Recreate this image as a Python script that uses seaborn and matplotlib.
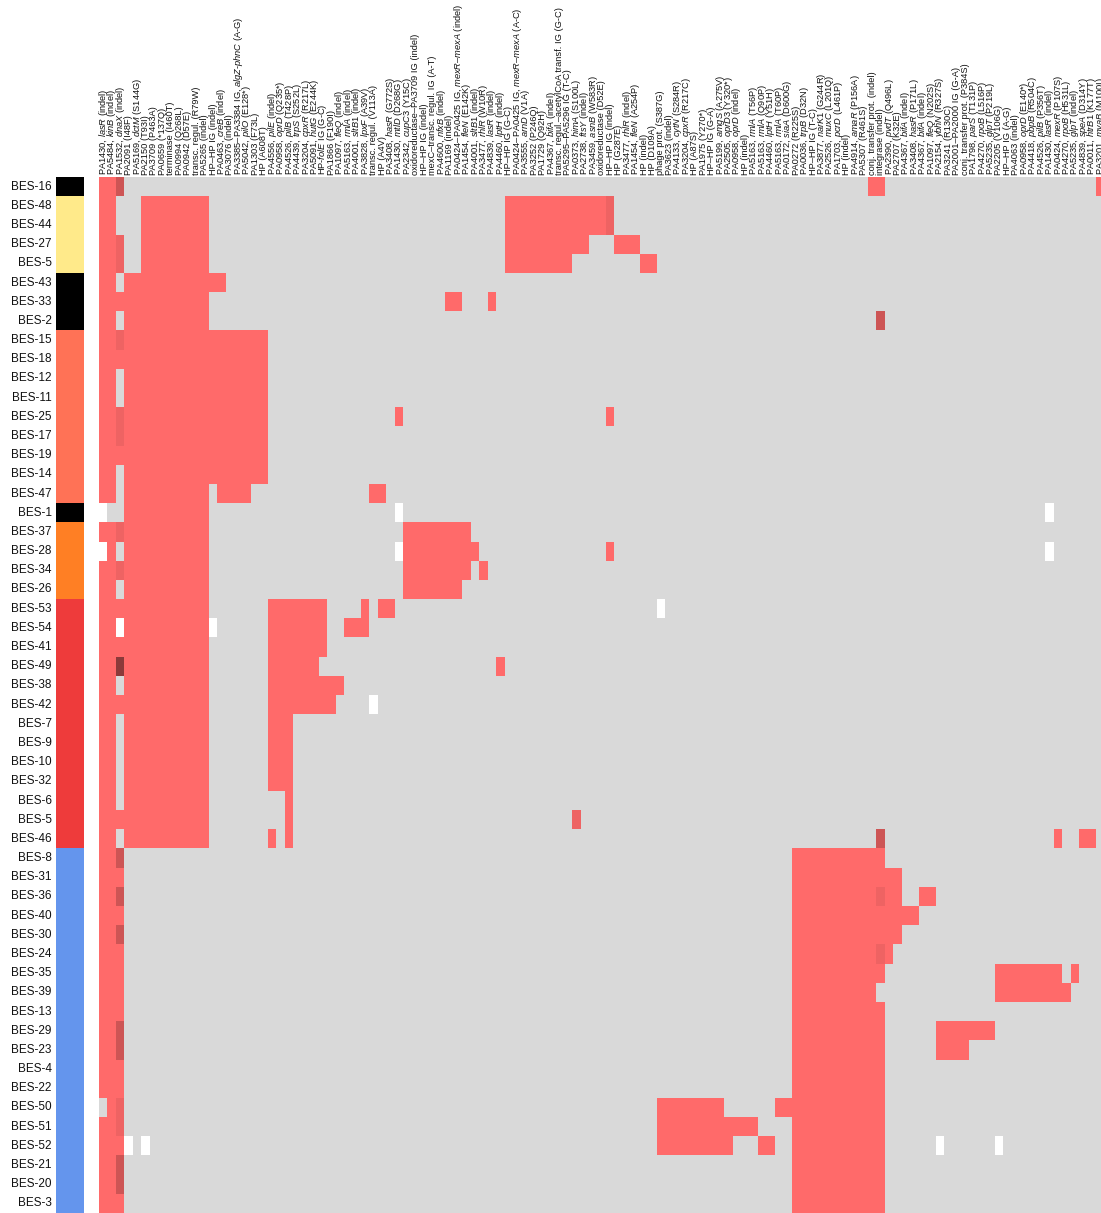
import numpy as np
import pandas as pd
import matplotlib
matplotlib.use("Agg")
import matplotlib.pyplot as plt
from matplotlib.colors import ListedColormap
import seaborn as sns

# ---------------- data ----------------
strains = ["BES-16", "BES-48", "BES-44", "BES-27", "BES-5", "BES-43", "BES-33", "BES-2",
           "BES-15", "BES-18", "BES-12", "BES-11", "BES-25", "BES-17", "BES-19", "BES-14",
           "BES-47", "BES-1", "BES-37", "BES-28", "BES-34", "BES-26", "BES-53", "BES-54",
           "BES-41", "BES-49", "BES-38", "BES-42", "BES-7", "BES-9", "BES-10", "BES-32",
           "BES-6", "BES-5", "BES-46", "BES-8", "BES-31", "BES-36", "BES-40", "BES-30",
           "BES-24", "BES-35", "BES-39", "BES-13", "BES-29", "BES-23", "BES-4", "BES-22",
           "BES-50", "BES-51", "BES-52", "BES-21", "BES-20", "BES-3"]

strain_groups = (["black"] + ["yellow"] * 4 + ["black"] * 3 + ["coral"] * 9 + ["black"]
                 + ["orange"] * 4 + ["red"] * 13 + ["blue"] * 19)

group_names = ["black", "yellow", "coral", "orange", "red", "blue"]
group_palette = ["#000000", "#FFEA8A", "#FF7256", "#FF7F24", "#EE3B3B", "#6495ED"]

mutations = [
    r"PA1430, $\mathit{lasR}$ (indel)",
    r"PA5484, $\mathit{kinB}$ (indel)",
    r"PA1532, $\mathit{dnaX}$ (indel)",
    "PA2091 (I48F)",
    r"PA5169, $\mathit{dctM}$ (S144G)",
    "PA2150 (T93I)",
    "PA3709 (P463A)",
    "PA0659 (*137Q)",
    "terminase (I460T)",
    "PA0994 (Q268L)",
    "PA0942 (D57E)",
    "transc. regul. (R79W)",
    "PA5265 (indel)",
    "HP–HP IG (indel)",
    r"PA0463, $\mathit{creB}$ (indel)",
    "PA3076 (indel)",
    r"PA3385–PA3384 IG, $\mathit{algZ}$-$\mathit{phnC}$ (A-G)",
    r"PA5042, $\mathit{pilO}$ (E128*)",
    "PA1303 (F73L)",
    "HP (A608T)",
    r"PA4556, $\mathit{pilE}$ (indel)",
    r"PA0958, $\mathit{oprD}$ (Q235*)",
    r"PA4526, $\mathit{pilB}$ (T428P)",
    r"PA4439, $\mathit{trpS}$ (S252L)",
    r"PA3204, $\mathit{cpxR}$ (R217L)",
    r"PA5091, $\mathit{hutG}$ (E244K)",
    r"HP-$\mathit{folE}$ IG (G-C)",
    "PA1866 (F190I)",
    r"PA1097, $\mathit{fleQ}$ (indel)",
    r"PA5163, $\mathit{rmlA}$ (indel)",
    r"PA4001, $\mathit{sltB1}$ (indel)",
    r"PA3828, $\mathit{lpxF}$ (A39V)",
    "transc. regul. (V113A)",
    "HP (A4V)",
    r"PA3408, $\mathit{hasR}$ (G772S)",
    r"PA1430, $\mathit{mtlD}$ (D268G)",
    r"PA2342, $\mathit{cupC3}$ (Y15C)",
    "oxidoreductase–PA3709 IG (indel)",
    "HP–HP IG (indel)",
    "mexC–transc. regul. IG (A-T)",
    r"PA4600, $\mathit{nfxB}$ (indel)",
    "PA1169 (indel)",
    r"PA0424–PA0425 IG, $\mathit{mexR}$–$\mathit{mexA}$ (indel)",
    r"PA1454, $\mathit{fleN}$ (E142K)",
    r"PA4001, $\mathit{sltB1}$ (indel)",
    r"PA3477, $\mathit{rhlR}$ (W10R)",
    r"PA4839, $\mathit{lasR}$ (indel)",
    r"PA4460, $\mathit{lptH}$ (indel)",
    "HP–HP IG (G-C)",
    r"PA0424–PA0425 IG, $\mathit{mexR}$–$\mathit{mexA}$ (A-C)",
    r"PA3555, $\mathit{arnD}$ (V1A)",
    "PA3252 (P246Q)",
    "PA1729 (Q92H)",
    r"PA4367, $\mathit{bifA}$ (indel)",
    "transc. regul.–acetylCoA transf. IG (G-C)",
    "PA5295–PA5296 IG (T-C)",
    r"PA0373, $\mathit{himA}$ (S100L)",
    r"PA2738, $\mathit{ftsY}$ (indel)",
    r"PA3459, $\mathit{asnB}$ (W583R)",
    "oxidoreductase (D52E)",
    "HP–HP IG (indel)",
    "HP (G287E)",
    r"PA3477, $\mathit{rhlR}$ (indel)",
    r"PA1454, $\mathit{fleN}$ (A254P)",
    "HP (indel)",
    "HP (D109A)",
    "phage prot. (S387G)",
    "PA3623 (indel)",
    r"PA4133, $\mathit{cytN}$ (S284R)",
    r"PA3204, $\mathit{cpxR}$ (R217C)",
    "HP (A87S)",
    "PA1975 (Y270*)",
    "HP–HP IG (G-A)",
    r"PA5199, $\mathit{amgS}$ (A275V)",
    r"PA2505, $\mathit{oprD3}$ (Y320*)",
    r"PA0958, $\mathit{oprD}$ (indel)",
    "HP (indel)",
    r"PA5163, $\mathit{rmlA}$ (T56P)",
    r"PA5163, $\mathit{rmlA}$ (Q90P)",
    r"PA4460, $\mathit{lptH}$ (Y51H)",
    r"PA5163, $\mathit{rmlA}$ (T60P)",
    r"PA0172, $\mathit{siaA}$ (D600G)",
    "PA0272 (R225S)",
    r"PA0036, $\mathit{trpB}$ (D32N)",
    "HP–HP IG (T-C)",
    r"PA3877, $\mathit{narK1}$ (G244R)",
    r"PA2526, $\mathit{muxC}$ (L201Q)",
    r"PA1703, $\mathit{pcrD}$ (L461P)",
    "HP (indel)",
    r"PA4914, $\mathit{amaR}$ (P156A)",
    "PA5307 (R461S)",
    "conj. transfer prot. (indel)",
    "integrase (indel)",
    r"PA2390, $\mathit{pvdT}$ (Q496L)",
    "PA2707 (K32E)",
    r"PA4367, $\mathit{bifA}$ (indel)",
    r"PA3408, $\mathit{hasR}$ (P171L)",
    r"PA4367, $\mathit{bifA}$ (indel)",
    r"PA1097, $\mathit{fleQ}$ (N202S)",
    r"PA2154, $\mathit{ybhN}$ (R327S)",
    "PA3241 (R130C)",
    "PA2001–PA2000 IG (G-A)",
    "conj. transfer prot. (P384S)",
    r"PA1798, $\mathit{parS}$ (T131P)",
    r"PA4270, $\mathit{rpoB}$ (L516P)",
    r"PA5235, $\mathit{glpT}$ (P219L)",
    "PA2205 (V106G)",
    "HP–HP IG (A-G)",
    "PA4063 (indel)",
    r"PA0958, $\mathit{oprD}$ (E140*)",
    r"PA4418, $\mathit{pbpB}$ (R504C)",
    r"PA4526, $\mathit{pilB}$ (P356T)",
    r"PA1430, $\mathit{lasR}$ (indel)",
    r"PA0424, $\mathit{mexR}$ (P107S)",
    r"PA4270, $\mathit{rpoB}$ (H531L)",
    r"PA5235, $\mathit{glpT}$ (indel)",
    r"PA4839, $\mathit{speA}$ (D314Y)",
    r"PA0011, $\mathit{htrB1}$ (K177T)",
    r"PA3201, $\mathit{mvaB}$ (M100I)",
]

# mutation state per strain: "cols:state" (1 = present, 2-4 = darker shades, NA = missing)
segments = [
    "1-2:1 3:3 92-93:1 119:1",                         # BES-16
    "1-2:1 6-13:1 49-60:1 61:2",                       # BES-48
    "1-2:1 6-13:1 49-60:1 61:2",                       # BES-44
    "1-2:1 3:2 6-13:1 49-58:1 62-64:1",                # BES-27
    "1-2:1 3:2 6-13:1 49-56:1 65-66:1",                # BES-5
    "1-2:1 4-15:1",                                    # BES-43
    "1-13:1 42-43:1 47:1",                             # BES-33
    "1-2:1 4-13:1 93:3",                               # BES-2
    "1-2:1 3:2 4-20:1",                                # BES-15
    "1-20:1",                                          # BES-18
    "1-2:1 4-20:1",                                    # BES-12
    "1-2:1 4-20:1",                                    # BES-11
    "1-2:1 3:2 4-20:1 36:1 61:1",                      # BES-25
    "1-2:1 3:2 4-20:1",                                # BES-17
    "1-20:1",                                          # BES-19
    "1-2:1 4-20:1",                                    # BES-14
    "1-2:1 4-13:1 15-18:1 33-34:1",                    # BES-47
    "1:NA 4-13:1 36:NA 113:NA",                        # BES-1
    "1-2:1 3:2 4-13:1 37-44:1",                        # BES-37
    "1:NA 2:1 4-13:1 36:NA 37-45:1 61:1 113:NA",       # BES-28
    "1-2:1 3:2 4-13:1 37-44:1 46:1",                   # BES-34
    "1-2:1 4-13:1 37-43:1",                            # BES-26
    "1-13:1 21-27:1 32:1 34-35:1 67:NA",               # BES-53
    "1-2:1 3:NA 4-13:1 14:NA 21-27:1 30-32:1",         # BES-54
    "1-13:1 21-27:1",                                  # BES-41
    "1-2:1 3:4 4-13:1 21-26:1 48:1",                   # BES-49
    "1-2:1 4-13:1 21-29:1",                            # BES-38
    "1-13:1 21-28:1 33:NA",                            # BES-42
    "1-2:1 4-13:1 21-23:1",                            # BES-7
    "1-2:1 4-13:1 21-23:1",                            # BES-9
    "1-2:1 4-13:1 21-23:1",                            # BES-10
    "1-2:1 4-13:1 21-23:1",                            # BES-32
    "1-2:1 4-13:1 23:1",                               # BES-6
    "1-13:1 23:1 57:2",                                # BES-5
    "1-2:1 4-13:1 21:1 23:1 93:3 114:1 117-118:1",     # BES-46
    "1-2:1 3:3 83-93:1",                               # BES-8
    "1-3:1 83-95:1",                                   # BES-31
    "1-2:1 3:3 83-92:1 93:2 94-95:1 98-99:1",          # BES-36
    "1-3:1 83-97:1",                                   # BES-40
    "1-2:1 3:3 83-95:1",                               # BES-30
    "1-3:1 83-92:1 93:2 94:1",                         # BES-24
    "1-3:1 83-93:1 107-114:1 116:1",                   # BES-35
    "1-3:1 83-92:1 107-115:1",                         # BES-39
    "1-3:1 83-93:1",                                   # BES-13
    "1-2:1 3:3 83-93:1 100-106:1",                     # BES-29
    "1-2:1 3:3 83-93:1 100-103:1",                     # BES-23
    "1-3:1 83-93:1",                                   # BES-4
    "1-3:1 83-93:1",                                   # BES-22
    "2:1 3:2 67-74:1 81-93:1",                         # BES-50
    "1-2:1 3:2 67-78:1 83-93:1",                       # BES-51
    "1-3:1 4:NA 6:NA 67-75:1 79-80:1 83-93:1 100:NA 107:NA",  # BES-52
    "1-2:1 3:3 83-93:1",                               # BES-21
    "1-2:1 3:3 83-93:1",                               # BES-20
    "1-3:1 83-93:1",                                   # BES-3
]

state_palette = ["#D9D9D9", "#FF6A6A", "#EE6363", "#CD5555", "#8B3A3A"]

# ---------------- build matrix ----------------
n_rows, n_cols = len(strains), len(mutations)
mat = np.zeros((n_rows, n_cols))
for i, spec in enumerate(segments):
    for tok in spec.split():
        rng, val = tok.split(":")
        a, _, b = rng.partition("-")
        b = b or a
        mat[i, int(a) - 1:int(b)] = np.nan if val == "NA" else float(val)
df = pd.DataFrame(mat, columns=range(n_cols))
grp = pd.DataFrame({"g": [group_names.index(g) for g in strain_groups]})

# ---------------- style ----------------
sns.set_style("white")
plt.rcParams["font.family"] = ["Liberation Sans", "DejaVu Sans"]
plt.rcParams["mathtext.fontset"] = "custom"
plt.rcParams["mathtext.rm"] = "Liberation Sans"
plt.rcParams["mathtext.it"] = "Liberation Sans:italic"
plt.rcParams["mathtext.default"] = "regular"

W, H = 1101, 1213
fig = plt.figure(figsize=(W / 100, H / 100), dpi=100)

top_px = 177
col_w = 8.45
ax = fig.add_axes([99 / W, 0, n_cols * col_w / W, (H - top_px) / H])
sns.heatmap(df, ax=ax, cmap=ListedColormap(state_palette), vmin=-0.5, vmax=4.5,
            cbar=False, mask=df.isna(), xticklabels=mutations, yticklabels=False)
ax.set_facecolor("white")
ax.xaxis.tick_top()
ax.set_xticklabels(mutations, rotation=90, fontsize=6.7, color="#111111")
ax.tick_params(axis="x", length=0, pad=1.5)
ax.set_xlabel("")
ax.set_ylabel("")

ax2 = fig.add_axes([56 / W, 0, 28 / W, (H - top_px) / H])
sns.heatmap(grp, ax=ax2, cmap=ListedColormap(group_palette), vmin=-0.5, vmax=5.5,
            cbar=False, xticklabels=False, yticklabels=strains)
ax2.set_yticklabels(strains, rotation=0, fontsize=8.5, color="#111111")
ax2.tick_params(axis="y", length=0, pad=3)
ax2.set_xlabel("")
ax2.set_ylabel("")

fig.savefig("out.png", dpi=100)
